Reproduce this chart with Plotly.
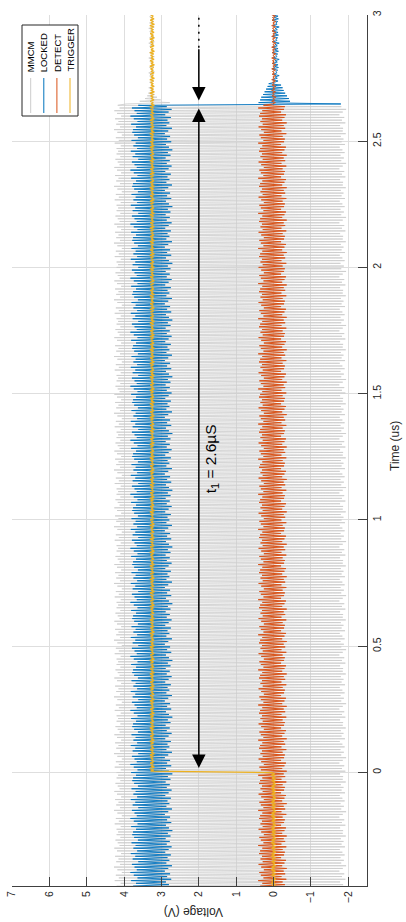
import numpy as np
import plotly.graph_objects as go

# ---- capture window (us) ----
t_start, t_end = -0.45, 3.0
sample_step = 0.00535       # scope sample spacing
t_trigger = 0.0             # TRIGGER rising edge
t_lock_loss = 2.645         # MMCM clock stops, LOCKED drops

# ---- per-sample voltage levels (V), cycled through the capture ----
mmcm_hi = [4.20, 4.09, 4.25, 4.14, 4.22, 4.06, 4.18, 4.27, 4.11, 4.21,
           4.15, 4.24, 4.08, 4.19, 4.26, 4.12, 4.17, 4.23, 4.10, 4.20, 4.16]
mmcm_lo = [-1.86, -1.78, -1.92, -1.83, -1.89, -1.76, -1.85, -1.94, -1.81, -1.88,
           -1.79, -1.90, -1.84, -1.77, -1.91, -1.82, -1.87, -1.80, -1.93, -1.85]
mmcm_settle = [3.95, 2.78, 3.58, 3.02, 3.44, 3.12, 3.38, 3.18, 3.35, 3.20]
mmcm_idle = [3.31, 3.21, 3.34, 3.19, 3.28, 3.23, 3.32, 3.20, 3.27, 3.24, 3.30]

locked_hi = [3.76, 3.68, 3.81, 3.64, 3.74, 3.83, 3.66, 3.72, 3.79, 3.62, 3.77,
             3.70, 3.82, 3.65, 3.75, 3.69, 3.80, 3.63, 3.73, 3.78]
locked_lo = [2.80, 2.88, 2.74, 2.85, 2.77, 2.91, 2.82, 2.72, 2.87, 2.79, 2.84,
             2.75, 2.90, 2.81, 2.73, 2.86, 2.78, 2.89, 2.76, 2.83, 2.71]
locked_ring = [-1.80, 0.40, -0.44, 0.36, -0.41, 0.33, -0.36, 0.28, -0.31, 0.24,
               -0.27, 0.20, -0.24, 0.16, -0.20, 0.13]
locked_idle = [-0.02, -0.12, 0.03, -0.10, -0.04, -0.15, 0.01, -0.09, -0.06, -0.11, 0.04, -0.13]

detect_hi = [0.36, 0.30, 0.41, 0.27, 0.34, 0.38, 0.26, 0.33, 0.40, 0.29, 0.35, 0.31, 0.39]
detect_lo = [-0.30, -0.24, -0.34, -0.21, -0.31, -0.27, -0.35, -0.23, -0.29, -0.33, -0.20, -0.28]
detect_idle = [0.03, -0.05, 0.05, -0.03, 0.02, -0.06, 0.04, -0.02]

trigger_lo = [0.04, -0.05, 0.06, -0.03, 0.05, -0.06, 0.02, -0.04, 0.05, -0.05]
trigger_hi = [3.29, 3.21, 3.31, 3.19, 3.28, 3.22, 3.30, 3.20, 3.27, 3.23]

names = ["MMCM", "LOCKED", "DETECT", "TRIGGER"]
colors = ["#cccccc", "#0072BD", "#D95319", "#EDB120"]

volt_ticks = list(range(-2, 8))
time_ticks = [0, 0.5, 1, 1.5, 2, 2.5, 3]
time_ticktext = ["0", "0.5", "1", "1.5", "2", "2.5", "3"]


# ---- build the sampled waveforms ----
def alternate(hi, lo, n):
    return [hi[(k // 2) % len(hi)] if k % 2 == 0 else lo[(k // 2) % len(lo)] for k in range(n)]


def tail(first, rest, n):
    out = list(first[:n])
    out += [rest[k % len(rest)] for k in range(n - len(out))]
    return out


def cycle(vals, n):
    return [vals[k % len(vals)] for k in range(n)]


t = np.arange(t_start, t_end + sample_step / 2, sample_step)
n_run = int((t < t_lock_loss).sum())
n_after = len(t) - n_run
n_pre = int((t < t_trigger).sum())

mmcm = alternate(mmcm_hi, mmcm_lo, n_run) + tail(mmcm_settle, mmcm_idle, n_after)
locked = alternate(locked_hi, locked_lo, n_run) + tail(locked_ring, locked_idle, n_after)
detect = alternate(detect_hi, detect_lo, n_run) + cycle(detect_idle, n_after)
trigger = cycle(trigger_lo, n_pre) + cycle(trigger_hi, len(t) - n_pre)

fig = go.Figure()
fig.add_trace(go.Scatter(x=mmcm, y=t, mode="lines", name=names[0],
                         line=dict(color=colors[0], width=0.8, simplify=False)))
fig.add_trace(go.Scatter(x=locked, y=t, mode="lines", name=names[1],
                         line=dict(color=colors[1], width=0.9, simplify=False)))
fig.add_trace(go.Scatter(x=detect, y=t, mode="lines", name=names[2],
                         line=dict(color=colors[2], width=1, simplify=False)))
fig.add_trace(go.Scatter(x=trigger, y=t, mode="lines", name=names[3],
                         line=dict(color=colors[3], width=1.3, simplify=False)))

# ---- geometry helpers (pixel -> paper) ----
W, H = 406, 922
ML, MR, MT, MB = 12, 39, 15, 36
PW, PH = W - ML - MR, H - MT - MB


def px(xp):
    return (xp - ML) / PW


def py(yp):
    return (H - MB - yp) / PH


font = "Liberation Sans, Arial, Helvetica, sans-serif"
axis_color = "#404040"
grid_color = "#dedede"

fig.update_layout(
    width=W, height=H,
    margin=dict(l=ML, r=MR, t=MT, b=MB, autoexpand=False),
    paper_bgcolor="white", plot_bgcolor="white",
    showlegend=False,
    font=dict(family=font, size=10, color="#262626"),
    xaxis=dict(range=[7, -2.5], tickvals=volt_ticks, tickangle=-90, automargin=False,
               showgrid=True, gridcolor=grid_color, gridwidth=1, zeroline=False,
               showline=True, linecolor=axis_color, linewidth=1,
               ticks="inside", ticklen=9, tickcolor=axis_color,
               tickfont=dict(size=10.5, color="#262626")),
    yaxis=dict(range=[t_start, t_end], side="right", tickvals=time_ticks, ticktext=time_ticktext,
               tickangle=-90, automargin=False, showgrid=True, gridcolor=grid_color, gridwidth=1,
               zeroline=False, showline=True, linecolor=axis_color, linewidth=1,
               ticks="inside", ticklen=9, tickcolor=axis_color,
               tickfont=dict(size=10.5, color="#262626")),
)

# ---- axis titles ----
fig.add_annotation(text="Voltage (V)", xref="paper", yref="paper", x=px(194), y=py(912),
                   xanchor="center", yanchor="middle", textangle=180, showarrow=False,
                   font=dict(size=12, color="#262626"))
fig.add_annotation(text="Time (us)", xref="paper", yref="paper", x=px(395), y=py(446),
                   xanchor="center", yanchor="middle", textangle=-90, showarrow=False,
                   font=dict(size=12, color="#262626"))

# ---- t1 marker: double arrow between trigger and lock loss ----
arrow_v = 2.0
fig.add_annotation(x=arrow_v, y=t_lock_loss, ax=arrow_v, ay=t_trigger, xref="x", yref="y",
                   axref="x", ayref="y", text="", showarrow=True, arrowside="end+start",
                   arrowhead=2, startarrowhead=2, arrowsize=1.8, startarrowsize=1.8,
                   arrowwidth=1.5, arrowcolor="black", standoff=4, startstandoff=3)
fig.add_annotation(x=arrow_v, y=t_lock_loss, ax=arrow_v, ay=2.87, xref="x", yref="y",
                   axref="x", ayref="y", text="", showarrow=True, arrowhead=2,
                   arrowsize=1.8, arrowwidth=1.5, arrowcolor="black", standoff=4)
fig.add_shape(type="line", xref="x", yref="y", x0=arrow_v, x1=arrow_v, y0=2.87, y1=t_end - 0.01,
              line=dict(color="black", width=1.5, dash="2px,5px"))
fig.add_annotation(text="t<sub>1</sub> = 2.6µS", xref="x", yref="y", x=1.66,
                   y=(t_trigger + t_lock_loss) / 2 - 0.08, xanchor="center", yanchor="middle",
                   textangle=-90, showarrow=False, font=dict(size=15.5, color="black"))

# ---- legend (rotated) ----
fig.add_shape(type="rect", xref="paper", yref="paper", x0=px(22), x1=px(78), y0=py(116), y1=py(25),
              line=dict(color="#262626", width=1), fillcolor="white", layer="above")
for i, (nm, c) in enumerate(zip(names, colors)):
    xc = 30.7 + i * 13.1
    fig.add_shape(type="line", xref="paper", yref="paper", x0=px(xc), x1=px(xc),
                  y0=py(113), y1=py(78), line=dict(color=c, width=1), layer="above")
    fig.add_annotation(text=nm, xref="paper", yref="paper", x=px(xc), y=py(74),
                       xanchor="center", yanchor="bottom", textangle=-90, showarrow=False,
                       font=dict(size=9.5, color="black"))

fig.write_html("out.html")
